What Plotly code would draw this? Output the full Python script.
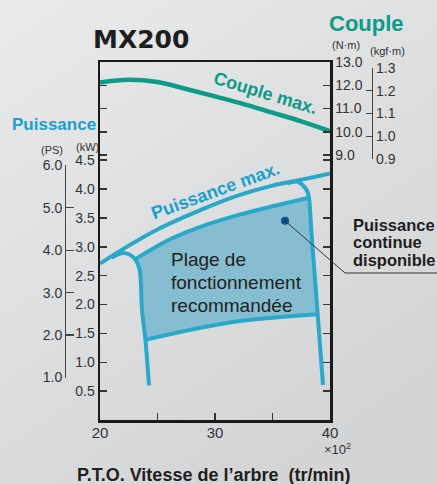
import base64
import plotly.graph_objects as go

# ---------------- data ----------------
rpm = [20, 22.5, 25, 27.5, 30, 32.5, 35, 37.5, 40]          # x100 tr/min
torque_max = [12.12, 12.24, 12.14, 11.84, 11.52, 11.19, 10.82, 10.45, 10.03]  # N·m
power_max = [2.71, 3.02, 3.30, 3.53, 3.74, 3.92, 4.06, 4.16, 4.27]            # kW

range_top_rpm = [23.1, 26.1, 29.1, 32.2, 35.2, 38.15]
range_top_kw = [2.79, 3.13, 3.37, 3.56, 3.71, 3.85]
range_bottom_rpm = [23.95, 31.3, 38.93]
range_bottom_kw = [1.39, 1.69, 1.83]
left_rpm = [24.26, 23.95, 23.65, 23.48, 23.22, 22.78, 22.17, 21.57, 21.0]
left_kw = [0.60, 1.39, 1.91, 2.57, 2.73, 2.84, 2.89, 2.87, 2.81]
right_rpm = [36.3, 37.13, 37.65, 38.0, 38.17, 38.4, 38.93, 39.39]
right_kw = [4.10, 4.13, 4.06, 3.97, 3.85, 3.21, 1.83, 0.61]
dot_rpm, dot_kw = 36.09, 3.45

kw_ticks = [0.5, 1.0, 1.5, 2.0, 2.5, 3.0, 3.5, 4.0, 4.5]
nm_ticks = [9.0, 10.0, 11.0, 12.0, 13.0]
kgf_ticks = [0.9, 1.0, 1.1, 1.2, 1.3]
ps_ticks = [1.0, 2.0, 3.0, 4.0, 5.0, 6.0]
x_ticks = [20, 25, 30, 35, 40]
x_ticktext = ["20", " ", "30", " ", "40"]

# ---------------- layout geometry ----------------
W, H = 437, 484
PX_L, PX_R, PX_T, PX_B = 100, 330, 62, 420
KW_RANGE = [0, 6.2]
TQ_RANGE = [-2.398, 13.0]
KW_PER_PS = 0.7355
NM_PER_KGFM = 9.80665


def xp(px):
    return px / W


def yp(py):
    return 1 - py / H


X_DOM = [xp(PX_L), xp(PX_R)]
Y_DOM = [yp(PX_B), yp(PX_T)]


def kw_to_paper(kw):
    f = (kw - KW_RANGE[0]) / (KW_RANGE[1] - KW_RANGE[0])
    return Y_DOM[0] + f * (Y_DOM[1] - Y_DOM[0])


def nm_to_paper(nm):
    f = (nm - TQ_RANGE[0]) / (TQ_RANGE[1] - TQ_RANGE[0])
    return Y_DOM[0] + f * (Y_DOM[1] - Y_DOM[0])


def rpm_to_paper(r):
    return X_DOM[0] + (r - 20) / 20 * (X_DOM[1] - X_DOM[0])


FONT = "Liberation Sans, Arial, sans-serif"
BLUE = "#2AA8C9"
BLUE_TXT = "#1A9FD2"
TEAL = "#0E9A87"
FILL = "#86BDD1"
INK = "#2a2a2a"
BG = "#DEDFE1"
BG_TOP = "#E9EAEB"
BG_BOT = "#D3D4D6"

fig = go.Figure()

# recommended operating range fill
fill_x = range_top_rpm + right_rpm[5:7] + range_bottom_rpm[::-1][1:] + left_rpm[2:5]
fill_y = range_top_kw + right_kw[5:7] + range_bottom_kw[::-1][1:] + left_kw[2:5]
fig.add_trace(go.Scatter(x=fill_x, y=fill_y, fill="toself", fillcolor=FILL,
                         mode="lines", line=dict(width=0), hoverinfo="skip"))

line_style = dict(color=BLUE, width=4)
fig.add_trace(go.Scatter(x=range_top_rpm, y=range_top_kw, mode="lines",
                         line=dict(shape="spline", **line_style), hoverinfo="skip"))
fig.add_trace(go.Scatter(x=range_bottom_rpm, y=range_bottom_kw, mode="lines",
                         line=dict(shape="spline", **line_style), hoverinfo="skip"))
fig.add_trace(go.Scatter(x=left_rpm, y=left_kw, mode="lines",
                         line=dict(shape="spline", smoothing=0.8, **line_style), hoverinfo="skip"))
fig.add_trace(go.Scatter(x=right_rpm, y=right_kw, mode="lines",
                         line=dict(shape="spline", smoothing=0.8, **line_style), hoverinfo="skip"))
# maximum power
fig.add_trace(go.Scatter(x=rpm, y=power_max, mode="lines",
                         line=dict(shape="spline", **line_style), hoverinfo="skip"))
# maximum torque
fig.add_trace(go.Scatter(x=rpm, y=torque_max, yaxis="y2", mode="lines",
                         line=dict(shape="spline", color=TEAL, width=4.5), hoverinfo="skip"))
# dot
fig.add_trace(go.Scatter(x=[dot_rpm], y=[dot_kw], mode="markers",
                         marker=dict(color="#0B4E8F", size=8), hoverinfo="skip"))
# invisible traces to anchor extra scales
fig.add_trace(go.Scatter(x=[30], y=[1.1], yaxis="y3", mode="markers",
                         marker=dict(opacity=0), hoverinfo="skip"))
fig.add_trace(go.Scatter(x=[30], y=[3.0], yaxis="y4", mode="markers",
                         marker=dict(opacity=0), hoverinfo="skip"))

tickfont = dict(family=FONT, size=14, color="#333")
axis_common = dict(showgrid=False, zeroline=False, fixedrange=True)

# soft diagonal background gradient
svg = (
    f'<svg xmlns="http://www.w3.org/2000/svg" width="{W}" height="{H}" '
    f'viewBox="0 0 {W} {H}" preserveAspectRatio="none">'
    '<defs><linearGradient id="g" x1="0" y1="0" x2="0.6" y2="1">'
    f'<stop offset="0" stop-color="{BG_TOP}"/><stop offset="1" stop-color="{BG_BOT}"/>'
    '</linearGradient></defs>'
    f'<rect width="{W}" height="{H}" fill="url(#g)"/></svg>'
)
bg_uri = "data:image/svg+xml;base64," + base64.b64encode(svg.encode()).decode()

fig.update_layout(
    width=W, height=H,
    margin=dict(l=0, r=0, t=0, b=0, autoexpand=False),
    paper_bgcolor=BG, plot_bgcolor="rgba(0,0,0,0)",
    showlegend=False,
    images=[dict(source=bg_uri, xref="paper", yref="paper", x=0, y=1, sizex=1, sizey=1,
                 xanchor="left", yanchor="top", sizing="stretch", layer="below")],
    xaxis=dict(domain=X_DOM, range=[20, 40], tickvals=x_ticks, ticktext=x_ticktext,
               ticks="inside", ticklen=7, tickwidth=1.5, tickcolor="#333",
               showline=True, linewidth=2.5, linecolor="#1a1a1a", mirror=True,
               ticklabelstandoff=-3,
               tickfont=dict(family=FONT, size=15, color="#333"), anchor="y", **axis_common),
    yaxis=dict(domain=Y_DOM, range=KW_RANGE, tickvals=kw_ticks,
               ticktext=[f"{v:.1f}" for v in kw_ticks],
               ticks="inside", ticklen=7, tickwidth=1.5, tickcolor="#333",
               showline=True, linewidth=2.5, linecolor="#1a1a1a", mirror="ticks",
               tickfont=tickfont, anchor="x", **axis_common),
    yaxis2=dict(range=TQ_RANGE, overlaying="y", side="right", tickvals=nm_ticks,
                ticktext=[f"{v:.1f}" for v in nm_ticks],
                ticks="inside", ticklen=7, tickwidth=1.5, tickcolor="#333",
                showline=True, linewidth=2.5, linecolor="#1a1a1a", mirror="ticks",
                tickfont=tickfont, anchor="x", **axis_common),
    yaxis3=dict(domain=[nm_to_paper(kgf_ticks[0] * NM_PER_KGFM), nm_to_paper(kgf_ticks[-1] * NM_PER_KGFM)],
                range=[kgf_ticks[0], kgf_ticks[-1]], tickvals=kgf_ticks,
                ticktext=[f"{v:.1f}" for v in kgf_ticks],
                anchor="free", position=xp(372), side="right",
                ticks="inside", ticklen=6, tickwidth=1.2, tickcolor="#444",
                showline=True, linewidth=1.2, linecolor="#444",
                tickfont=tickfont, **axis_common),
    yaxis4=dict(domain=[kw_to_paper(ps_ticks[0] * KW_PER_PS), kw_to_paper(ps_ticks[-1] * KW_PER_PS)],
                range=[ps_ticks[0], ps_ticks[-1]], tickvals=ps_ticks,
                ticktext=[f"{v:.1f}" for v in ps_ticks],
                anchor="free", position=xp(65), side="left",
                ticks="inside", ticklen=8, tickwidth=1.2, tickcolor="#444",
                showline=True, linewidth=1.2, linecolor="#444",
                tickfont=tickfont, **axis_common),
)


def ann(text, px, py, size, color=INK, bold=False, family=FONT, angle=0,
        xanchor="center", yanchor="middle"):
    if bold:
        text = f"<b>{text}</b>"
    fig.add_annotation(text=text, x=xp(px), y=yp(py), xref="paper", yref="paper",
                       showarrow=False, textangle=angle, xanchor=xanchor, yanchor=yanchor,
                       font=dict(family=family, size=size, color=color))


ann("MX200", 141, 40, 25, color="#1e1e1e", bold=True, family="DejaVu Sans, sans-serif")
ann("Couple", 366, 23, 22, color=TEAL, bold=True)
ann("(N·m)", 346, 45, 11, color="#333")
ann("(kgf·m)", 387, 51, 11, color="#333")
ann("Puissance", 54, 125, 17, color=BLUE_TXT, bold=True)
ann("(PS)", 52, 150, 11, color="#333")
ann("(kW)", 87, 147, 11, color="#333")
ann("×10<sup>2</sup>", 337, 449, 13, color="#333")
ann("P.T.O. Vitesse de l’arbre&nbsp;&nbsp;(tr/min)", 213, 475, 18, color="#1e1e1e", bold=True)
ann("Puissance max.", 215, 191, 18, color=BLUE_TXT, bold=True, angle=-20)
ann("Couple max.", 265, 93, 18, color=TEAL, bold=True, angle=17)
for i, t in enumerate(["Plage de", "fonctionnement", "recommandée"]):
    ann(t, 169, 259 + 23 * i, 19, color="#222", xanchor="left")
for i, t in enumerate(["Puissance", "continue", "disponible"]):
    ann(t, 351, 225 + 17.5 * i, 16.5, color="#1e1e1e", bold=True, xanchor="left")

# leader line from the dot to the label
dx, dy = rpm_to_paper(dot_rpm), kw_to_paper(dot_kw)
fig.add_shape(type="path", xref="paper", yref="paper",
              path=f"M {dx} {dy} L {xp(345)} {yp(273)} L {xp(437)} {yp(273)}",
              line=dict(color="#333", width=1))

fig.write_html(
    "out.html",
    config={"displayModeBar": False, "staticPlot": True},
    post_script=(
        "document.body.style.margin='0';"
        "document.body.style.padding='0';"
        f"document.body.style.background='{BG}';"
        "document.documentElement.style.overflow='hidden';"
    ),
)
